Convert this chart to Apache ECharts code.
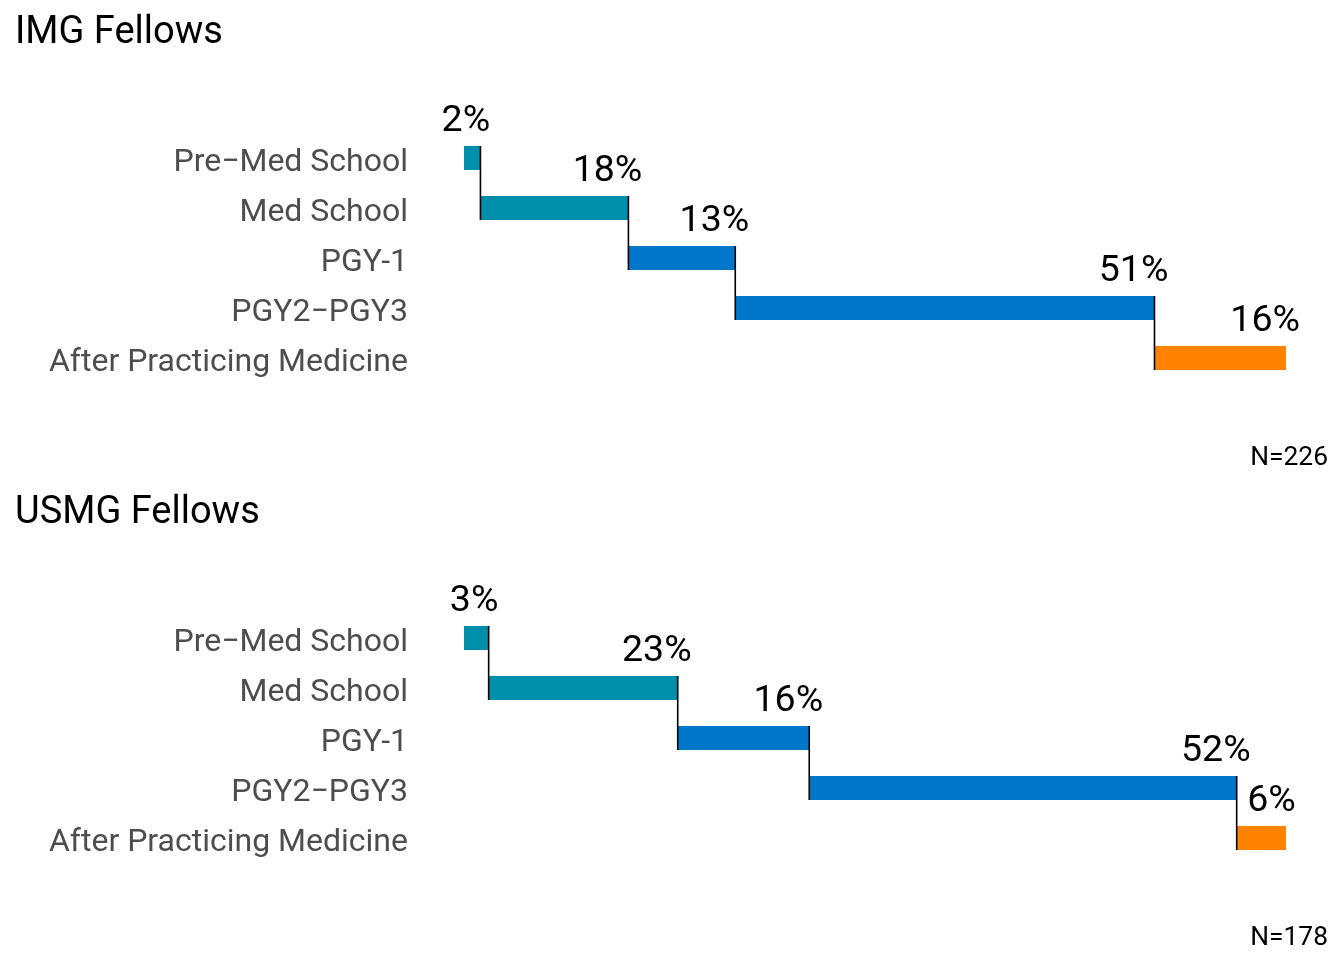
<!DOCTYPE html>
<html>
<head>
<meta charset="utf-8">
<style>html,body{margin:0;padding:0;background:#fff}#c{width:1344px;height:960px}</style>
<script src="https://cdn.jsdelivr.net/npm/echarts@6/dist/echarts.min.js"></script>
</head>
<body>
<div id="c"></div>
<script>
const categories = ['Pre\u2212Med School', 'Med School', 'PGY-1', 'PGY2\u2212PGY3', 'After Practicing Medicine'];
const imgValues = [2, 18, 13, 51, 16];
const usmgValues = [3, 23, 16, 52, 6];
const stageColors = ['#008FAA', '#008FAA', '#0077C8', '#0077C8', '#FF8200'];
const panelTitles = ['IMG Fellows', 'USMG Fellows'];
const panelN = ['N=226', 'N=178'];

const FONT = 'Roboto, "Noto Sans", sans-serif';
const LABEL_SIZE = 37.5;
const BAR_H = 24;

const mctx = document.createElement('canvas').getContext('2d');
function textW(t) { mctx.font = LABEL_SIZE + 'px ' + FONT; return mctx.measureText(t).width; }

function buildData(vals) {
  let cum = 0;
  return vals.map((v, i) => { const s = cum; cum += v; return [s, cum, i, v]; });
}

function renderItem(params, api) {
  const s = api.value(0), e = api.value(1), idx = api.value(2), v = api.value(3);
  const p0 = api.coord([s, idx]);
  const p1 = api.coord([e, idx]);
  const children = [{
    type: 'rect',
    shape: { x: p0[0], y: p1[1] - BAR_H / 2, width: p1[0] - p0[0], height: BAR_H },
    style: { fill: stageColors[idx] }
  }];
  if (idx < categories.length - 1) {
    const pn = api.coord([e, idx + 1]);
    children.push({
      type: 'line', z2: 10,
      shape: { x1: p1[0], y1: p1[1] - BAR_H / 2, x2: p1[0], y2: pn[1] + BAR_H / 2 },
      style: { stroke: '#000', lineWidth: 1.6 }
    });
  }
  const txt = v + '%';
  const w = textW(txt);
  children.push({
    type: 'text', z2: 11,
    style: {
      text: txt, x: p1[0] - 0.8 * w, y: p1[1] - 36,
      align: 'left', verticalAlign: 'middle',
      fontSize: LABEL_SIZE, fontFamily: FONT, fill: '#000'
    }
  });
  return { type: 'group', children };
}

const tops = [133, 613];
const option = {
  animation: false,
  backgroundColor: '#fff',
  title: [
    { text: panelTitles[0], left: 10, top: 9, textStyle: { fontSize: 38, fontWeight: 'normal', color: '#000', fontFamily: FONT } },
    { text: panelTitles[1], left: 10, top: 489, textStyle: { fontSize: 38, fontWeight: 'normal', color: '#000', fontFamily: FONT } },
    { text: panelN[0], right: 11, top: 440, textStyle: { fontSize: 26.4, fontWeight: 'normal', color: '#000', fontFamily: FONT } },
    { text: panelN[1], right: 11, top: 920, textStyle: { fontSize: 26.4, fontWeight: 'normal', color: '#000', fontFamily: FONT } }
  ],
  grid: tops.map(t => ({ left: 464, right: 58, top: t, height: 250 })),
  xAxis: [0, 1].map(g => ({
    type: 'value', gridIndex: g, min: 0, max: 100, show: false
  })),
  yAxis: [0, 1].map(g => ({
    type: 'category', gridIndex: g, data: categories, inverse: true,
    axisLine: { show: false }, axisTick: { show: false }, splitLine: { show: false },
    axisLabel: {
      margin: 56,
      formatter: v => '{a|' + v + '}',
      rich: { a: { fontSize: 32, color: '#4D4D4D', fontFamily: FONT, padding: [9, 0, 0, 0] } }
    }
  })),
  series: [imgValues, usmgValues].map((vals, g) => ({
    type: 'custom', xAxisIndex: g, yAxisIndex: g,
    renderItem, data: buildData(vals), clip: false,
    encode: { x: [0, 1], y: 2 }
  }))
};
echarts.init(document.getElementById('c')).setOption(option);
</script>
</body>
</html>
